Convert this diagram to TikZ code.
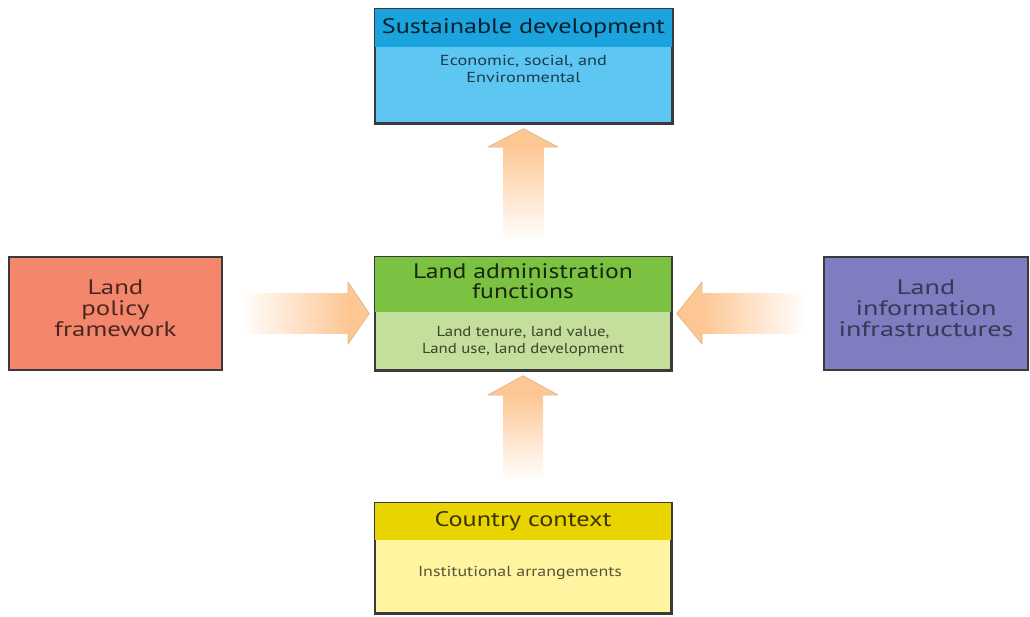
\documentclass[tikz,border=0pt]{standalone}
\usepackage{fontspec}
\setmainfont{PT Sans}
\usepackage{graphicx}
\definecolor{sdhead}{HTML}{1BA3DD}
\definecolor{sdbody}{HTML}{5DC6F2}
\definecolor{lahead}{HTML}{7CC242}
\definecolor{labody}{HTML}{C3DF9B}
\definecolor{lpfill}{HTML}{F4866C}
\definecolor{lifill}{HTML}{7F7CC0}
\definecolor{cchead}{HTML}{E9D400}
\definecolor{ccbody}{HTML}{FFF4A0}
\definecolor{arrowc}{HTML}{FDC794}
\definecolor{arrowd}{HTML}{E2B88E}
\definecolor{boxline}{HTML}{3A3A3A}
\newcommand{\fitw}[2]{\resizebox{#1}{\height}{\begin{tabular}{@{}c@{}}#2\end{tabular}}}
\begin{document}
\begin{tikzpicture}[x=1pt,y=-1pt,
  boxstyle/.style={draw=boxline, line width=1.5pt, rectangle, inner sep=0pt},
  headtext/.style={font=\fontsize{21}{19}\selectfont, inner sep=0pt},
  subtext/.style={font=\fontsize{14.5}{17}\selectfont, inner sep=0pt},
  arrowhead/.style={draw=arrowd, line width=0.8pt, line join=round}]
\useasboundingbox (0,0) rectangle (1030,616);
\fill[white] (0,0) rectangle (1030,616);

% ---- boxes ----
\node[boxstyle, fill=sdbody, minimum width=297pt, minimum height=114pt] (sd) at (523.5,66) {};
\fill[sdhead] (sd.north west) rectangle ([yshift=-39pt]sd.north east);
\draw[boxstyle] (sd.north west) rectangle (sd.south east);

\node[boxstyle, fill=labody, minimum width=296pt, minimum height=113pt] (la) at (523,313.5) {};
\fill[lahead] (la.north west) rectangle ([yshift=-56pt]la.north east);
\draw[boxstyle] (la.north west) rectangle (la.south east);

\node[boxstyle, fill=ccbody, minimum width=296pt, minimum height=110pt] (cc) at (523,558) {};
\fill[cchead] (cc.north west) rectangle ([yshift=-38pt]cc.north east);
\draw[boxstyle] (cc.north west) rectangle (cc.south east);

\node[boxstyle, fill=lpfill, minimum width=213pt, minimum height=113pt] (lp) at (115.5,313.5) {};
\node[boxstyle, fill=lifill, minimum width=204pt, minimum height=113pt] (li) at (926,313.5) {};

% ---- texts ----
\node[headtext, text=black!80!sdhead] (sdt) at (523.5,29) {\fitw{283pt}{Sustainable development}};
\node[subtext, text=black!70!sdbody] (sds) at (523.5,71) {\fitw{167pt}{Economic, social, and\\Environmental}};

\node[headtext, text=black!80!lahead] (lat) at (523,284) {\fitw{220pt}{Land administration\\functions}};
\node[subtext, text=black!70!labody] (las) at (523,341.5) {\fitw{202pt}{Land tenure, land value,\\Land use, land development}};

\node[headtext, text=black!75!cchead] (cct) at (523,522) {\fitw{177pt}{Country context}};
\node[subtext, text=black!65!ccbody] (ccs) at (520,573) {\fitw{204pt}{Institutional arrangements}};

\node[headtext, text=black!70!lpfill] (lpt) at (115.5,311) {\fitw{122pt}{Land\\policy\\framework}};
\node[headtext, text=black!55!lifill] (lit) at (926,311) {\fitw{175pt}{Land\\information\\infrastructures}};

% ---- arrows ----
% top (centre -> sustainable development)
\coordinate (a1tip) at ([yshift=-5pt]sd.south);
\shade[top color=arrowc, middle color=arrowc, bottom color=white] (503.5,147) rectangle (543.5,240);
\fill[arrowc] (488,147) -- (a1tip) -- (558,147) -- cycle;
\draw[arrowhead] (503.5,147) -- (488,147) -- (a1tip) -- (558,147) -- (543.5,147);

% bottom (country context -> centre)
\coordinate (a2tip) at ([yshift=-5pt]la.south);
\shade[top color=arrowc, middle color=arrowc, bottom color=white] (503,395) rectangle (543,480);
\fill[arrowc] (488,395) -- (a2tip) -- (558,395) -- cycle;
\draw[arrowhead] (503,395) -- (488,395) -- (a2tip) -- (558,395) -- (543,395);

% left (policy -> centre)
\coordinate (a3tip) at ([xshift=-5pt]la.west);
\shade[right color=arrowc, middle color=arrowc, left color=white] (240,293) rectangle (348,333);
\fill[arrowc] (348,282) -- (a3tip) -- (348,344) -- cycle;
\draw[arrowhead] (348,293) -- (348,282) -- (a3tip) -- (348,344) -- (348,333);

% right (information -> centre)
\coordinate (a4tip) at ([xshift=5pt]la.east);
\shade[left color=arrowc, middle color=arrowc, right color=white] (702,293) rectangle (807,333);
\fill[arrowc] (702,282) -- (a4tip) -- (702,344) -- cycle;
\draw[arrowhead] (702,293) -- (702,282) -- (a4tip) -- (702,344) -- (702,333);
\end{tikzpicture}
\end{document}
